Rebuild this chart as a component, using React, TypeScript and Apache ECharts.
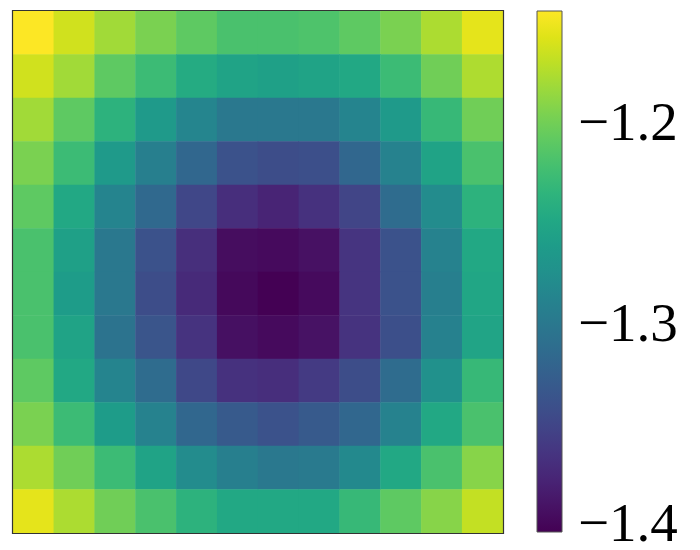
import React, { useEffect, useRef } from "react";
import * as echarts from "echarts";

const rowLabels = ["0", "1", "2", "3", "4", "5", "6", "7", "8", "9", "10", "11"];
const colLabels = ["0", "1", "2", "3", "4", "5", "6", "7", "8", "9", "10", "11"];

const row0 = [-1.145, -1.163, -1.181, -1.196, -1.209, -1.219, -1.219, -1.217, -1.209, -1.196, -1.177, -1.155];
const row1 = [-1.163, -1.181, -1.209, -1.227, -1.245, -1.253, -1.256, -1.253, -1.248, -1.227, -1.201, -1.176];
const row2 = [-1.181, -1.209, -1.237, -1.263, -1.285, -1.299, -1.299, -1.299, -1.286, -1.263, -1.23, -1.201];
const row3 = [-1.196, -1.227, -1.263, -1.292, -1.317, -1.338, -1.343, -1.341, -1.317, -1.289, -1.253, -1.219];
const row4 = [-1.209, -1.248, -1.286, -1.315, -1.348, -1.369, -1.377, -1.366, -1.35, -1.312, -1.279, -1.237];
const row5 = [-1.219, -1.256, -1.299, -1.338, -1.368, -1.394, -1.396, -1.391, -1.364, -1.338, -1.289, -1.248];
const row6 = [-1.219, -1.261, -1.299, -1.343, -1.372, -1.397, -1.4025, -1.396, -1.364, -1.338, -1.292, -1.25];
const row7 = [-1.219, -1.253, -1.305, -1.335, -1.365, -1.392, -1.396, -1.39, -1.365, -1.341, -1.29, -1.252];
const row8 = [-1.209, -1.248, -1.286, -1.312, -1.347, -1.366, -1.369, -1.359, -1.343, -1.312, -1.274, -1.23];
const row9 = [-1.196, -1.227, -1.261, -1.289, -1.317, -1.33, -1.338, -1.33, -1.317, -1.289, -1.248, -1.219];
const row10 = [-1.177, -1.201, -1.227, -1.253, -1.279, -1.292, -1.299, -1.297, -1.281, -1.248, -1.219, -1.191];
const row11 = [-1.155, -1.177, -1.201, -1.219, -1.237, -1.248, -1.248, -1.248, -1.23, -1.209, -1.191, -1.168];

const rows = [row0, row1, row2, row3, row4, row5, row6, row7, row8, row9, row10, row11];

const colorMin = -1.4025;
const colorMax = -1.1446;
const colorbarTicks = [-1.4, -1.3, -1.2];

const viridis = [
  "#440154", "#471365", "#482475", "#463480", "#414487", "#3b528b", "#355f8d",
  "#2f6c8e", "#2a788e", "#25848e", "#21918c", "#1e9c89", "#22a884", "#2fb47c",
  "#44bf70", "#5ec962", "#7ad151", "#9bd93c", "#bddf26", "#dfe318", "#fde725",
];

export default function App() {
  const ref = useRef<HTMLDivElement>(null);

  useEffect(() => {
    if (!ref.current) return;
    const chart = echarts.init(ref.current, null, { renderer: "svg" });

    const data: [number, number, number][] = [];
    rows.forEach((row, r) => {
      row.forEach((v, c) => data.push([c, r, v]));
    });

    const hmLeft = 13, hmTop = 11, hmW = 490, hmH = 522;
    const cbLeft = 537, cbTop = 11, cbW = 25, cbH = 521;

    const stops = viridis
      .map((color, i) => ({ offset: 1 - i / (viridis.length - 1), color }))
      .reverse();

    chart.setOption({
      animation: false,
      backgroundColor: "#ffffff",
      grid: [
        { left: hmLeft, top: hmTop, width: hmW, height: hmH },
        { left: cbLeft, top: cbTop, width: cbW, height: cbH },
      ],
      xAxis: [
        { type: "category", data: colLabels, gridIndex: 0, show: false },
        { type: "value", gridIndex: 1, show: false, min: 0, max: 1 },
      ],
      yAxis: [
        { type: "category", data: rowLabels, gridIndex: 0, show: false, inverse: true },
        {
          type: "value",
          gridIndex: 1,
          position: "right",
          min: colorMin,
          max: colorMax,
          axisLine: { show: false },
          splitLine: { show: false },
          axisTick: {
            show: true,
            length: 4,
            customValues: colorbarTicks,
            lineStyle: { color: "#555", width: 1 },
          },
          axisLabel: {
            show: true,
            customValues: colorbarTicks,
            margin: 16,
            color: "#000",
            fontFamily: "Liberation Serif",
            fontSize: 55,
            lineHeight: 40,
            formatter: (v: number) => v.toFixed(1).replace("-", "\u2212"),
          },
        },
      ],
      visualMap: {
        type: "continuous",
        show: false,
        min: colorMin,
        max: colorMax,
        seriesIndex: 0,
        inRange: { color: viridis },
      },
      series: [
        {
          type: "heatmap",
          xAxisIndex: 0,
          yAxisIndex: 0,
          data,
          itemStyle: { borderWidth: 0 },
          emphasis: { disabled: true },
        },
      ],
      graphic: [
        {
          type: "rect",
          z: 10,
          shape: { x: cbLeft, y: cbTop, width: cbW, height: cbH },
          style: {
            fill: { type: "linear", x: 0, y: 0, x2: 0, y2: 1, colorStops: stops },
            stroke: "#555",
            lineWidth: 1,
          },
        },
        {
          type: "rect",
          z: 100,
          shape: { x: hmLeft - 0.5, y: hmTop - 0.5, width: hmW + 1, height: hmH + 1 },
          style: { fill: "none", stroke: "#333", lineWidth: 1.2 },
        },
      ],
    });

    return () => chart.dispose();
  }, []);

  return (
    <div
      ref={ref}
      style={{ position: "absolute", left: 0, top: 0, width: 700, height: 550 }}
    />
  );
}
